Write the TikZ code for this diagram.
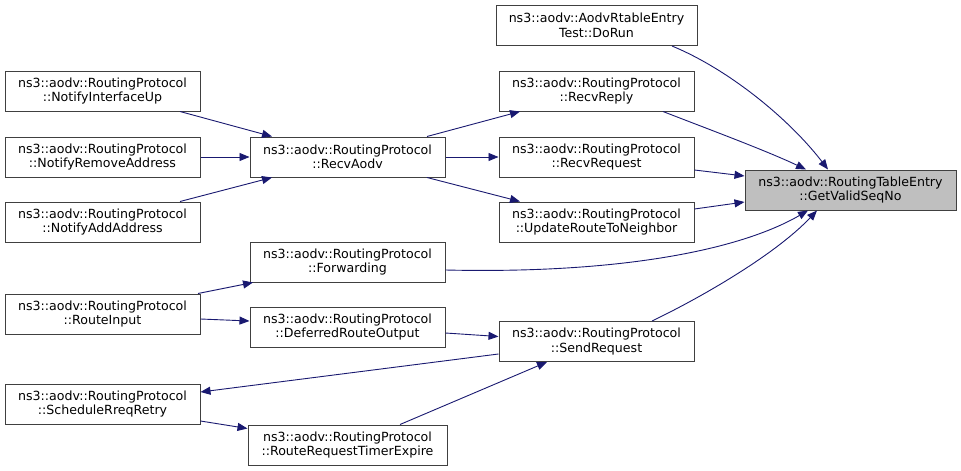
\documentclass[tikz,border=0pt]{standalone}
\usepackage{fontspec}
\setmainfont{DejaVu Sans}
\usetikzlibrary{arrows.meta,calc}
\definecolor{edgec}{HTML}{191970}
\definecolor{boxc}{HTML}{404040}
\definecolor{hl}{HTML}{BFBFBF}
\tikzset{
  fn/.style={draw=boxc, line width=1pt, fill=white, minimum height=40pt,
    minimum width=195pt, inner sep=0pt, align=center,
    font=\fontsize{12.6}{14.5}\selectfont},
  call/.style={draw=edgec, line width=0.9pt, -{Triangle[length=10pt,width=8pt]}}
}
\begin{document}
\begin{tikzpicture}[x=1pt,y=-1pt]
\useasboundingbox (0,0) rectangle (961,471);
% nodes
\node[fn, minimum width=201pt] (dorun) at (596.5,25.5) {ns3::aodv::AodvRtableEntry\\Test::DoRun};
\node[fn] (recvreply) at (596.5,91) {ns3::aodv::RoutingProtocol\\::RecvReply};
\node[fn] (recvrequest) at (596.5,157) {ns3::aodv::RoutingProtocol\\::RecvRequest};
\node[fn] (update) at (596.5,222) {ns3::aodv::RoutingProtocol\\::UpdateRouteToNeighbor};
\node[fn, fill=hl, minimum width=211pt] (getvalid) at (850.5,190) {ns3::aodv::RoutingTableEntry\\::GetValidSeqNo};
\node[fn] (nifup) at (102.5,91) {ns3::aodv::RoutingProtocol\\::NotifyInterfaceUp};
\node[fn] (nremove) at (102.5,157) {ns3::aodv::RoutingProtocol\\::NotifyRemoveAddress};
\node[fn] (nadd) at (102.5,222) {ns3::aodv::RoutingProtocol\\::NotifyAddAddress};
\node[fn] (recvaodv) at (347.5,157) {ns3::aodv::RoutingProtocol\\::RecvAodv};
\node[fn] (forwarding) at (347.5,262) {ns3::aodv::RoutingProtocol\\::Forwarding};
\node[fn] (routeinput) at (102.5,314) {ns3::aodv::RoutingProtocol\\::RouteInput};
\node[fn] (deferred) at (347.5,327) {ns3::aodv::RoutingProtocol\\::DeferredRouteOutput};
\node[fn] (sendrequest) at (596.5,341.5) {ns3::aodv::RoutingProtocol\\::SendRequest};
\node[fn] (schedule) at (102.5,404) {ns3::aodv::RoutingProtocol\\::ScheduleRreqRetry};
\node[fn, minimum width=199pt] (rrte) at (347.5,445) {ns3::aodv::RoutingProtocol\\::RouteRequestTimerExpire};
% edges
\draw[call] ($(dorun.south)+(75.5,0)$) .. controls (730,70) and (790,120) .. ($(getvalid.north)+(-22.5,0)$);
\draw[call] ($(recvreply.south)+(66.5,0)$) .. controls (700,126) and (765,150) .. ($(getvalid.north)+(-44.5,0)$);
\draw[call] ($(recvrequest.east)+(0,13)$) -- ($(getvalid.west)+(0,-14)$);
\draw[call] ($(update.east)+(0,-13)$) -- ($(getvalid.west)+(0,12)$);
\draw[call] ($(forwarding.east)+(0,8)$) .. controls (620,274) and (740,250) .. ($(getvalid.south)+(-42.5,0)$);
\draw[call] ($(sendrequest.north)+(55.5,0)$) .. controls (700,298) and (775,255) .. ($(getvalid.south)+(-33.5,0)$);
\draw[call] ($(nifup.south)+(77.5,0)$) -- ($(recvaodv.north)+(-75.5,0)$);
\draw[call] (nremove.east) -- (recvaodv.west);
\draw[call] ($(nadd.north)+(77.5,0)$) -- ($(recvaodv.south)+(-75.5,0)$);
\draw[call] ($(recvaodv.north)+(79.5,0)$) -- ($(recvreply.south)+(-76.5,0)$);
\draw[call] (recvaodv.east) -- (recvrequest.west);
\draw[call] ($(recvaodv.south)+(79.5,0)$) -- ($(update.north)+(-76.5,0)$);
\draw[call] ($(routeinput.north)+(95.5,0)$) -- ($(forwarding.south)+(-94.5,0)$);
\draw[call] ($(routeinput.east)+(0,5)$) -- ($(deferred.west)+(0,-6)$);
\draw[call] ($(deferred.east)+(0,6)$) -- ($(sendrequest.west)+(0,-5)$);
\draw[call] ($(sendrequest.west)+(0,12.5)$) -- ($(schedule.east)+(0,-12)$);
\draw[call] ($(schedule.east)+(0,17)$) -- ($(rrte.west)+(0,-16.5)$);
\draw[call] ($(rrte.north)+(52.5,0)$) -- ($(sendrequest.south)+(-49.5,0)$);
\end{tikzpicture}
\end{document}
